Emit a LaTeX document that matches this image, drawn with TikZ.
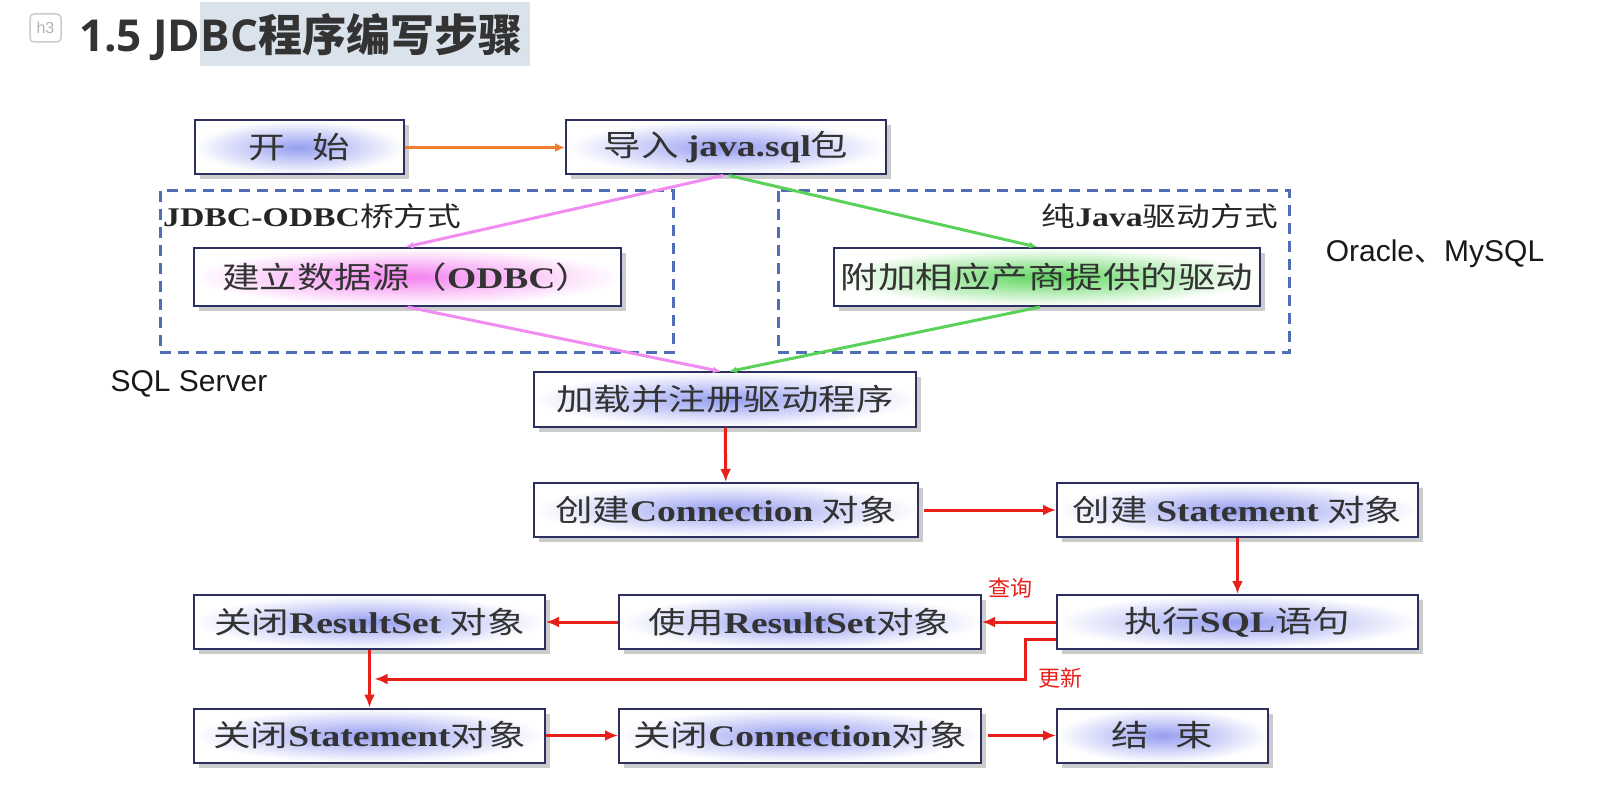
\documentclass[tikz,border=0pt]{standalone}
\usepackage{fontspec}
\setmainfont{Liberation Serif}
\newfontfamily\zhfont{Noto Sans CJK SC}[FakeStretch=1.25]
\newfontfamily\enfont{Liberation Serif}[FakeStretch=1.25]
\newfontfamily\zhplain{Noto Sans CJK SC}
\newfontfamily\sansfont{Liberation Sans}
\newfontfamily\titlefont{Open Sans}
\usetikzlibrary{arrows.meta,shadows,calc}

\definecolor{boxline}{RGB}{43,48,96}
\definecolor{glowblue}{RGB}{150,158,240}
\definecolor{glowpink}{RGB}{245,130,240}
\definecolor{glowgreen}{RGB}{95,215,95}
\definecolor{linepink}{RGB}{240,140,240}
\definecolor{linegreen}{RGB}{90,210,90}
\definecolor{flowred}{RGB}{232,32,26}
\definecolor{floworange}{RGB}{240,125,50}
\definecolor{groupblue}{RGB}{80,110,180}
\definecolor{marker}{RGB}{218,226,235}
\definecolor{titlegray}{RGB}{51,51,51}

\newcommand{\en}[1]{{\enfont\bfseries #1}}

\tikzset{
 stepbox/.style={draw=boxline,line width=2pt,inner color=glowblue,outer color=white,
  drop shadow={shadow xshift=5pt,shadow yshift=-5pt,fill=black!40,opacity=.5},
  minimum height=54pt,inner sep=0pt,text=black!80,font=\zhfont\fontsize{30}{36}\selectfont},
 groupbox/.style={draw=groupblue,line width=3pt,dash pattern=on 11pt off 7pt},
 grouplabel/.style={inner sep=0pt,text=black!85,font=\zhfont\fontsize{27}{32}\selectfont},
 sidelabel/.style={inner sep=0pt,text=black!90,font=\sansfont\fontsize{30}{34}\selectfont},
 flowlabel/.style={inner sep=0pt,text=flowred,font=\zhplain\fontsize{22}{24}\selectfont},
 flow/.style={draw=flowred,line width=3pt,-{Latex[length=13pt,width=11pt]}},
 orangeflow/.style={draw=floworange,line width=3pt,-{Latex[length=10pt,width=9pt]}},
 pinkline/.style={draw=linepink,line width=3pt,-{Latex[length=8pt,width=7pt]}},
 greenline/.style={draw=linegreen,line width=3pt,-{Latex[length=8pt,width=7pt]}}
}

\begin{document}
\begin{tikzpicture}[x=1pt,y=-1pt]
\useasboundingbox (0,0) rectangle (1622,799);
% heading
\fill[marker] (200,2) rectangle (530,66);
\node[draw=black!20,line width=1.5pt,rounded corners=4pt,minimum width=31pt,minimum height=28pt,inner sep=0pt,
 text=black!30,font=\sansfont\fontsize{16}{16}\selectfont] (hicon) at (45.5,28) {h3};
\node[anchor=base west,inner sep=0pt,text=titlegray] (title) at (79,52)
 {\titlefont\bfseries\fontsize{44}{50}\selectfont 1.5 JDBC{\zhplain\bfseries 程序编写步骤}};

% driver groups
\draw[groupbox] (160,191) rectangle (673,353);
\draw[groupbox] (778,191) rectangle (1289,353);
\node[grouplabel,anchor=west] (odbclabel) at (163,216) {\en{JDBC-ODBC}桥方式};
\node[grouplabel,anchor=east] (purelabel) at (1278,216) {纯\en{Java}驱动方式};

% steps
\node[stepbox,minimum width=209pt] (start) at (299,147.5) {开\hspace{.9em}始};
\node[stepbox,minimum width=320pt] (import) at (726,147.5) {导入 \en{java.sql}包};
\node[stepbox,minimum width=427pt,minimum height=58pt,inner color=glowpink] (odbc) at (407.5,277) {建立数据源（\en{ODBC}）};
\node[stepbox,minimum width=426pt,minimum height=58pt,inner color=glowgreen] (vendor) at (1047,277) {附加相应产商提供的驱动};
\node[stepbox,minimum width=382pt] (load) at (725,399.5) {加载并注册驱动程序};
\node[stepbox,minimum width=384pt] (conn) at (726,510) {创建\en{Connection} 对象};
\node[stepbox,minimum width=361pt] (stmt) at (1237.5,510) {创建 \en{Statement} 对象};
\node[stepbox,minimum width=361pt] (exec) at (1237.5,622) {执行\en{SQL}语句};
\node[stepbox,minimum width=362pt] (use) at (800,622) {使用\en{ResultSet}对象};
\node[stepbox,minimum width=351pt] (closers) at (369.5,622) {关闭\en{ResultSet} 对象};
\node[stepbox,minimum width=351pt] (closestmt) at (369.5,735.5) {关闭\en{Statement}对象};
\node[stepbox,minimum width=362pt] (closeconn) at (800,735.5) {关闭\en{Connection}对象};
\node[stepbox,minimum width=211pt] (finish) at (1162.5,735.5) {结\hspace{.9em}束};

% side notes
\node[sidelabel] (oracle) at (1435,254) {Oracle{\zhplain 、}MySQL};
\node[sidelabel] (sqlserver) at (189,384) {SQL Server};
\node[flowlabel] (query) at (1010,588) {查询};
\node[flowlabel] (update) at (1060,678) {更新};

% connectors
\draw[orangeflow] (start) -- (import);
\draw[pinkline] ([xshift=-3pt]import.south) -- ([xshift=-2pt]odbc.north);
\draw[pinkline] (odbc.south) -- ([xshift=-4pt]load.north);
\draw[greenline] ([xshift=3pt]import.south) -- ([xshift=-10pt]vendor.north);
\draw[greenline] ([xshift=-7pt]vendor.south) -- ([xshift=4pt]load.north);
\draw[flow] (load) -- (conn);
\draw[flow,shorten <=5pt] (conn) -- (stmt);
\draw[flow] (stmt) -- (exec);
\draw[flow] (exec) -- (use);
\draw[flow] (use) -- (closers);
\draw[flow] (closers) -- (closestmt);
\coordinate (updrow) at (0,679);
\draw[flow] ([yshift=-17pt]exec.west) -- ++(-31,0) |- ($(closers.south |- updrow)+(5,0)$);
\draw[flow] (closestmt) -- (closeconn);
\draw[flow,shorten <=6pt] (closeconn) -- (finish);
\end{tikzpicture}
\end{document}
